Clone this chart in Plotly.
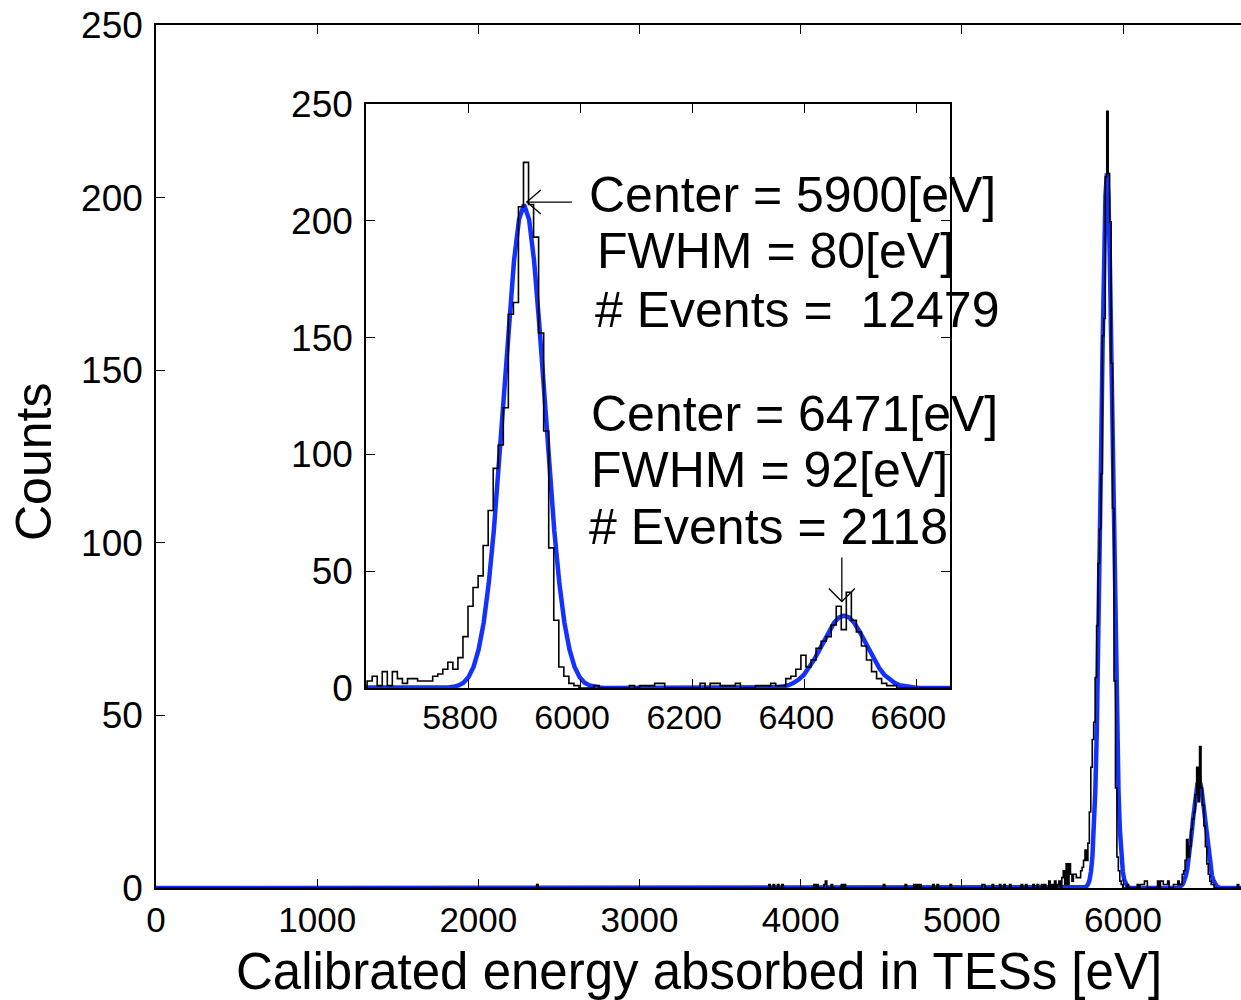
import numpy as np
import plotly.graph_objects as go

# ---------------- data ----------------
BIN_WIDTH = 9          # eV
BIN_START = 4          # left edge of first bin (eV)
N_BINS = 752

# histogram counts in the peak region, bins starting at 5620 eV
region_start = 5620
region_counts = [
    3, 5, 1, 7, 1, 7, 4, 2, 4, 4, 3, 3, 3, 5, 6, 8, 11, 8, 13, 22,
    35, 43, 48, 61, 76, 94, 104, 120, 160, 165, 206, 225, 207, 193, 152, 110, 60, 29, 9, 5,
    2, 1, 0, 0, 0, 1, 0, 0, 0, 0, 0, 0, 1, 0, 1, 1, 1, 2, 2, 0,
    0, 0, 0, 0, 0, 0, 2, 0, 2, 2, 1, 1, 1, 2, 0, 0, 0, 1, 1, 1,
    2, 1, 1, 4, 5, 8, 14, 9, 12, 17, 20, 22, 27, 35, 25, 41, 29, 24, 18, 12,
    7, 4, 2, 1, 1, 0, 0, 0, 0, 0, 0, 0, 0, 0, 0, 0, 0, 0, 0, 0,
    0, 1, 0, 0, 0, 0,
]

# isolated low-energy events (energy eV, counts)
sparse_energy = [2370, 3810, 3830, 3860, 3885, 4085, 4100, 4150, 4160, 4195, 4260, 4275,
                 4520, 4650, 4705, 4720, 4740, 4825, 4850, 4930, 5125, 5135, 5190, 5235,
                 5260, 5300, 5370, 5395, 5440, 5475, 5500, 5520, 5545, 5560, 5580, 5600, 5610]
sparse_counts = [1, 1, 1, 1, 1, 1, 1, 1, 2, 1, 1, 1,
                 1, 1, 1, 1, 1, 1, 1, 1, 1, 1, 1, 1,
                 1, 1, 1, 1, 1, 1, 1, 1, 2, 1, 2, 1, 2]

# fitted curve (blue)
fit_energy = [0, 5756,
              5765, 5774, 5783, 5792, 5801, 5810, 5819, 5828, 5837, 5846, 5855, 5864, 5873, 5882, 5891,
              5900, 5909, 5918, 5927, 5936, 5945, 5954, 5963, 5972, 5981, 5990, 5999, 6008, 6017, 6026, 6035,
              6044, 6336,
              6345, 6354, 6363, 6372, 6381, 6390, 6399, 6408, 6417, 6426, 6435, 6444, 6453, 6462,
              6471, 6480, 6489, 6498, 6507, 6516, 6525, 6534, 6543, 6552, 6561, 6570, 6579, 6588, 6597,
              6606, 6800]
fit_counts = [0, 0,
              0.2, 0.5, 1.1, 2.3, 4.7, 9.1, 16.5, 28.0, 44.8, 67.2, 94.8, 125.6, 156.2, 182.7, 200.6,
              207, 200.6, 182.7, 156.2, 125.6, 94.8, 67.2, 44.8, 28.0, 16.5, 9.1, 4.7, 2.3, 1.1, 0.5, 0.2,
              0, 0,
              0.2, 0.3, 0.7, 1.2, 2.2, 3.6, 5.6, 8.4, 11.9, 15.9, 20.2, 24.4, 27.9, 30.2,
              31, 30.2, 27.9, 24.4, 20.2, 15.9, 11.9, 8.4, 5.6, 3.6, 2.2, 1.2, 0.7, 0.3, 0.2,
              0, 0]

peak_centers = [5900, 6471]
peak_fwhm = [80, 92]
peak_events = [12479, 2118]
arrow_tips = [(5905, 208), (6467, 37)]   # where the arrows point (inset data coords)

main_xticks = [0, 1000, 2000, 3000, 4000, 5000, 6000]
main_yticks = [0, 50, 100, 150, 200, 250]
inset_xticks = [5800, 6000, 6200, 6400, 6600]
inset_yticks = [0, 50, 100, 150, 200, 250]

# ---------------- build histogram ----------------
counts = np.zeros(N_BINS)
for e, c in zip(sparse_energy, sparse_counts):
    counts[int((e - BIN_START) // BIN_WIDTH)] = c
j0 = (region_start - BIN_START) // BIN_WIDTH
counts[j0:j0 + len(region_counts)] = region_counts
centers = BIN_START + BIN_WIDTH * (np.arange(N_BINS) + 0.5)

# ---------------- layout geometry ----------------
W, H = 1241, 1000
ML, MR, MT, MB = 156, 0, 25, 112
PW, PH = W - ML - MR, H - MT - MB
X_MAX = PW / 0.16117          # main x-axis range end (eV)


def px(x):
    return (x - ML) / PW


def py(y):
    return (MT + PH - y) / PH


FONT = "Liberation Sans, Arial, Helvetica, sans-serif"
BLUE = "rgb(20,50,255)"

fig = go.Figure()
for xa, ya in (("x", "y"), ("x2", "y2")):
    fig.add_trace(go.Scatter(x=fit_energy, y=fit_counts, mode="lines",
                             line=dict(color=BLUE, width=4.5), xaxis=xa, yaxis=ya,
                             showlegend=False, hoverinfo="skip"))
    fig.add_trace(go.Scatter(x=centers, y=counts, mode="lines", line_shape="hvh",
                             line=dict(color="black", width=1.6), xaxis=xa, yaxis=ya,
                             showlegend=False, hoverinfo="skip"))

axis_common = dict(showgrid=False, zeroline=False, showline=True, linecolor="black",
                   linewidth=1.5, ticks="inside", ticklen=9, tickwidth=1.3,
                   tickcolor="black", automargin=False)

fig.update_layout(
    width=W, height=H, template="none",
    margin=dict(l=ML, r=MR, t=MT, b=MB, pad=0),
    paper_bgcolor="white", plot_bgcolor="white",
    font=dict(family=FONT, color="black"),
    xaxis=dict(domain=[0, 1], range=[0, X_MAX], tickvals=main_xticks,
               tickfont=dict(size=35), mirror="ticks", ticklabelstandoff=0,
               **axis_common),
    yaxis=dict(domain=[0, 1], range=[0, 250], tickvals=main_yticks,
               tickfont=dict(size=37), ticklabelstandoff=4, **axis_common),
    xaxis2=dict(domain=[px(366), px(950)], range=[5618, 6660], anchor="y2",
                tickvals=inset_xticks, tickfont=dict(size=34), mirror="ticks",
                ticklabelstandoff=-2, ticklabelshift=-8, **axis_common),
    yaxis2=dict(domain=[py(688), py(104)], range=[0, 250], anchor="x2",
                tickvals=inset_yticks, tickfont=dict(size=37), mirror="ticks",
                ticklabelstandoff=4, **axis_common),
)

# axis titles
fig.add_annotation(text="Calibrated energy absorbed in TESs [eV]", xref="paper", yref="paper",
                   x=px(699), y=py(941), xanchor="center", yanchor="top", showarrow=False,
                   font=dict(size=51, family=FONT, color="black"))
fig.add_annotation(text="Counts", xref="paper", yref="paper", textangle=-90,
                   x=px(34), y=py(462), xanchor="center", yanchor="middle", showarrow=False,
                   font=dict(size=50, family=FONT, color="black"))

# peak statistics text
lines = [
    (f"Center = {peak_centers[0]}[eV]", 591, 175),
    (f"FWHM = {peak_fwhm[0]}[eV]", 599, 232),
    (f"# Events =  {peak_events[0]}", 597, 290),
    (f"Center = {peak_centers[1]}[eV]", 593, 394),
    (f"FWHM = {peak_fwhm[1]}[eV]", 593, 450),
    (f"# Events = {peak_events[1]}", 591, 507),
]
for txt, lx, ty in lines:
    fig.add_annotation(text=txt, xref="paper", yref="paper", x=px(lx - 4), y=py(ty - 10.5),
                       xanchor="left", yanchor="top", showarrow=False,
                       font=dict(size=50, family=FONT, color="black"))

# arrows (open heads) pointing at the peaks
arrow_style = dict(type="path", xref="x2", yref="y2", xsizemode="pixel", ysizemode="pixel",
                   line=dict(color="black", width=1.3))
tx, ty = arrow_tips[0]
fig.add_shape(path="M 0,0 L 45,0", xanchor=tx, yanchor=ty, **arrow_style)
fig.add_shape(path="M 14,12 L 0,0 L 14,-12", xanchor=tx, yanchor=ty, **arrow_style)
tx, ty = arrow_tips[1]
fig.add_shape(path="M 0,0 L 0,44", xanchor=tx, yanchor=ty, **arrow_style)
fig.add_shape(path="M -13,13 L 0,0 L 13,13", xanchor=tx, yanchor=ty, **arrow_style)

fig.write_html("out.html", config={"displayModeBar": False},
               post_script="document.body.style.margin='0px';")
